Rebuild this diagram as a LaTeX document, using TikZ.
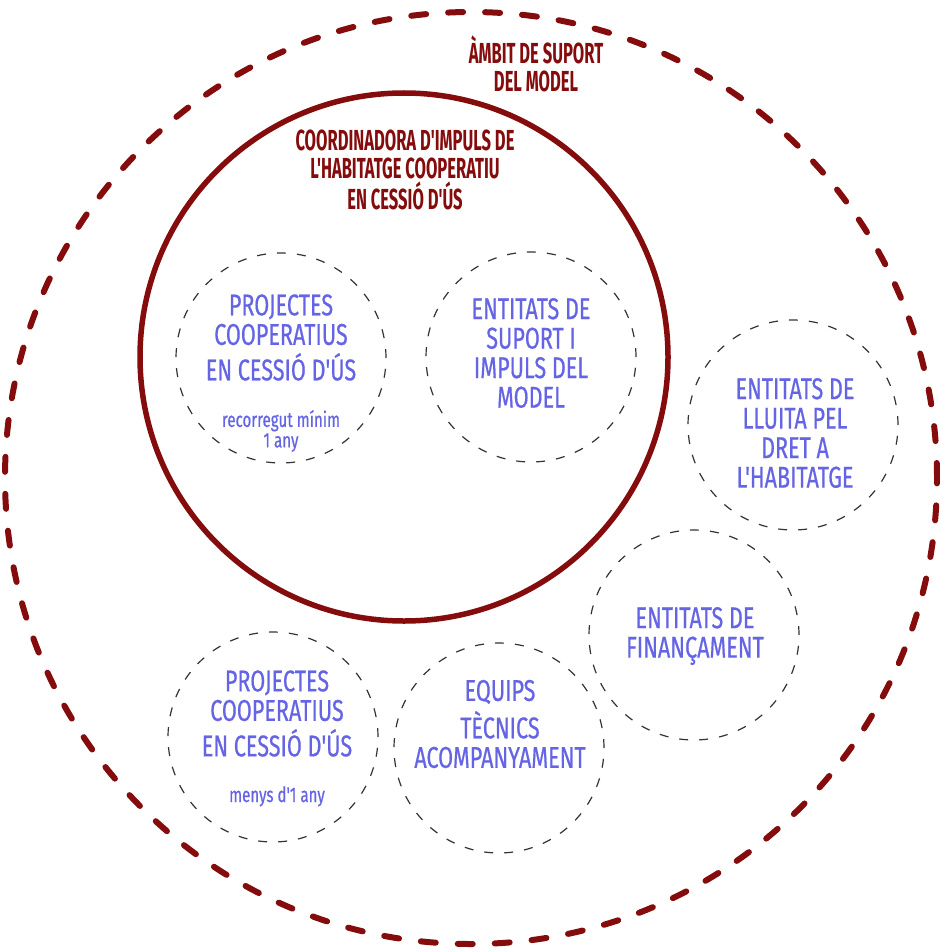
\documentclass[tikz,border=0pt]{standalone}
\usepackage{fontspec}
\setmainfont{Fira Sans}
\newfontfamily\bluef[FakeStretch=0.72,FakeBold=0.6]{Fira Sans}
\newfontfamily\redf[FakeStretch=0.57]{Fira Sans}
\definecolor{darkred}{RGB}{132,12,12}
\definecolor{textblue}{RGB}{100,100,228}
\tikzset{
  outerring/.style={circle, draw=darkred, line width=6pt, dash pattern=on 15pt off 22pt, line cap=round, inner sep=0pt, outer sep=0pt, minimum size=932pt},
  coordring/.style={circle, draw=darkred, line width=5.5pt, inner sep=0pt, outer sep=0pt, minimum size=528pt},
  member/.style={circle, draw=black!80, line width=1.2pt, dash pattern=on 9pt off 11pt, inner sep=0pt, outer sep=0pt, minimum size=210pt},
  bluetext/.style={text=textblue, align=center, inner sep=0pt, font=\bluef\fontsize{30}{29.5}\selectfont},
  subtext/.style={text=textblue, align=center, inner sep=0pt, font=\bluef\fontsize{21}{20.5}\selectfont},
  redtext/.style={text=darkred, align=center, inner sep=0pt, font=\redf\bfseries\fontsize{29}{28}\selectfont}
}
\begin{document}
\begin{tikzpicture}[x=1pt,y=-1pt]
\useasboundingbox (0,0) rectangle (939,952);
\node[outerring] (ambit) at (471,478) {};
\node[coordring] (coord) at (404,357) {};
\node[member] (proj1) at (281,358) {};
\node[member] (suport) at (531,357) {};
\node[member] (lluita) at (793,425) {};
\node[member] (finan) at (694,635) {};
\node[member] (equips) at (499,748) {};
\node[member] (proj2) at (273,737) {};

\node[redtext] (ambitlabel) at (536,64) {ÀMBIT DE SUPORT\\DEL MODEL};
\node[redtext] (coordlabel) at (405,170) {COORDINADORA D'IMPULS DE\\L'HABITATGE COOPERATIU\\[2pt]EN CESSIÓ D'ÚS};

\node[bluetext] (proj1label) at (281,337.5) {PROJECTES\\COOPERATIUS\\[6pt]EN CESSIÓ D'ÚS};
\node[subtext] (proj1sub) at (281,431) {recorregut mínim\\1 any};
\node[bluetext] (suportlabel) at (531,353) {ENTITATS DE\\SUPORT I\\IMPULS DEL\\MODEL};
\node[bluetext] (lluitalabel) at (795,433) {ENTITATS DE\\LLUITA PEL\\DRET A\\L'HABITATGE};
\node[bluetext] (finanlabel) at (695,636) {ENTITATS DE\\FINANÇAMENT};
\node[bluetext] (equipslabel) at (500,724) {EQUIPS\\[6pt]TÈCNICS\\ACOMPANYAMENT};
\node[bluetext] (proj2label) at (277,713.5) {PROJECTES\\COOPERATIUS\\[6pt]EN CESSIÓ D'ÚS};
\node[subtext, anchor=base] (proj2sub) at (277,802) {menys d'1 any};
\end{tikzpicture}
\end{document}
